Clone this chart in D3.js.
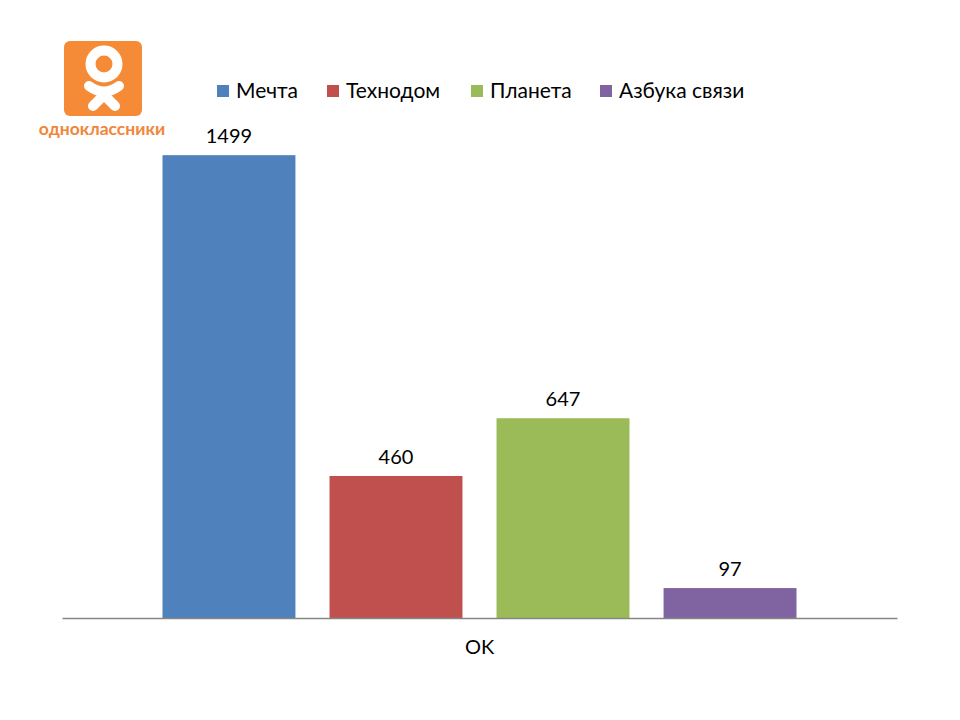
<!DOCTYPE html>
<html>
<head>
<meta charset="utf-8">
<script src="https://cdn.jsdelivr.net/npm/d3@7"></script>
<style>
  body { margin: 0; background: #fff; }
  svg { display: block; font-family: Lato, "Liberation Sans", sans-serif; }
</style>
</head>
<body>
<div id="chart"></div>
<script>
// data
var categories = ["OK"];
var seriesNames = ["Мечта", "Технодом", "Планета", "Азбука связи"];
var seriesValues = [1499, 460, 647, 97];
var seriesColors = ["#4f81bd", "#c0504d", "#9bbb59", "#8064a2"];

var width = 960, height = 720;
var svg = d3.select("#chart").append("svg")
    .attr("width", width)
    .attr("height", height);

// plot area
var plot = { left: 62, right: 897, top: 124, bottom: 618 };

var x0 = d3.scaleBand()
    .domain(categories)
    .range([plot.left, plot.right])
    .paddingInner(0)
    .paddingOuter(0.1585);

var x1 = d3.scaleBand()
    .domain(seriesNames)
    .range([0, x0.bandwidth()])
    .paddingInner(0.204);

var y = d3.scaleLinear()
    .domain([0, 1600])
    .range([plot.bottom, plot.top]);

var rows = seriesNames.map((s, i) => ({ cat: categories[0], name: s, value: seriesValues[i], color: seriesColors[i] }));

var g = svg.append("g");

g.selectAll(".bar")
    .data(rows)
    .enter().append("rect")
    .attr("class", "bar")
    .attr("x", d => x0(d.cat) + x1(d.name))
    .attr("y", d => y(d.value))
    .attr("width", x1.bandwidth())
    .attr("height", d => y(0) - y(d.value))
    .attr("fill", d => d.color);

g.selectAll(".label")
    .data(rows)
    .enter().append("text")
    .attr("class", "label")
    .attr("x", d => x0(d.cat) + x1(d.name) + x1.bandwidth() / 2)
    .attr("y", d => y(d.value) - 12)
    .attr("text-anchor", "middle")
    .attr("font-size", 20)
    .attr("fill", "#000")
    .text(d => d.value);

// category axis
var xAxis = svg.append("g")
    .attr("transform", "translate(0," + plot.bottom + ")")
    .call(d3.axisBottom(x0).tickSize(0).tickPadding(22));
xAxis.select(".domain").attr("stroke", "#868686").attr("stroke-width", 1.3);
xAxis.selectAll("text")
    .attr("font-size", 20)
    .attr("font-family", "Lato, sans-serif")
    .attr("fill", "#000");

// legend
var legendX = [217, 327, 471, 600];
var legend = svg.append("g");
rows.forEach((d, i) => {
    legend.append("rect")
        .attr("x", legendX[i])
        .attr("y", 85)
        .attr("width", 12)
        .attr("height", 12)
        .attr("fill", d.color);
    legend.append("text")
        .attr("x", legendX[i] + 19)
        .attr("y", 98)
        .attr("font-size", 21)
        .attr("fill", "#000")
        .text(d.name);
});

// odnoklassniki logo
var logo = svg.append("g");
logo.append("rect")
    .attr("x", 64).attr("y", 41)
    .attr("width", 78).attr("height", 75)
    .attr("rx", 6)
    .attr("fill", "#f68b37");
logo.append("circle")
    .attr("cx", 104).attr("cy", 64)
    .attr("r", 13.5)
    .attr("fill", "none")
    .attr("stroke", "#fff")
    .attr("stroke-width", 10);
logo.append("path")
    .attr("d", "M89,86 Q104,97 119,86")
    .attr("fill", "none")
    .attr("stroke", "#fff")
    .attr("stroke-width", 10)
    .attr("stroke-linecap", "round");
logo.append("path")
    .attr("d", "M93,106 L104,95 L115,106")
    .attr("fill", "none")
    .attr("stroke", "#fff")
    .attr("stroke-width", 10)
    .attr("stroke-linecap", "round")
    .attr("stroke-linejoin", "round");
logo.append("text")
    .attr("x", 102).attr("y", 135)
    .attr("text-anchor", "middle")
    .attr("font-size", 17.5)
    .attr("font-weight", "bold")
    .attr("fill", "#f0863a")
    .text("одноклассники");
</script>
</body>
</html>
